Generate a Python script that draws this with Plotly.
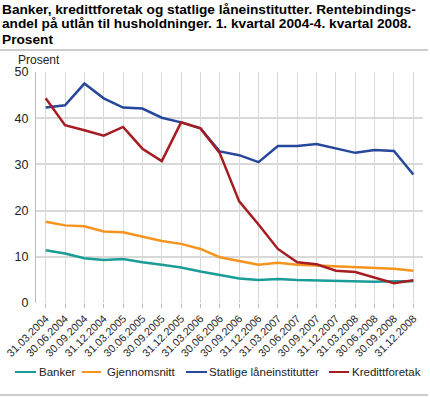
import plotly.graph_objects as go

categories = ["31.03.2004", "30.06.2004", "30.09.2004", "31.12.2004", "31.03.2005", "30.06.2005",
              "30.09.2005", "31.12.2005", "31.03.2006", "30.06.2006", "30.09.2006", "31.12.2006",
              "31.03.2007", "30.06.2007", "30.09.2007", "31.12.2007", "31.03.2008", "30.06.2008",
              "30.09.2008", "31.12.2008"]

banker = [11.4, 10.7, 9.7, 9.3, 9.5, 8.8, 8.3, 7.7, 6.8, 6.0, 5.3, 5.0, 5.2, 5.0, 4.9, 4.9, 4.7, 4.6, 4.7, 4.7]
gjennomsnitt = [17.6, 16.8, 16.6, 15.5, 15.3, 14.3, 13.4, 12.8, 11.7, 9.9, 9.1, 8.3, 8.7, 8.3, 8.1, 7.9, 7.7, 7.5, 7.4, 7.0]
statlige = [42.3, 42.8, 47.5, 44.3, 42.3, 42.1, 40.1, 39.1, 37.8, 32.8, 32.0, 30.5, 34.0, 34.0, 34.4, 33.4, 32.5, 33.1, 32.9, 27.8]
kreditt = [44.3, 38.5, 37.4, 36.2, 38.1, 33.4, 30.7, 39.1, 37.8, 32.4, 22.0, 17.0, 11.7, 8.8, 8.4, 7.0, 6.7, 5.5, 4.3, 4.9]

series_names = ["Banker", "Gjennomsnitt", "Statlige låneinstitutter", "Kredittforetak"]
series_colors = ["#1a9c98", "#f7941d", "#26479a", "#a51d23"]
y_ticks = [0, 10, 20, 30, 40, 50]

title_lines = ["Banker, kredittforetak og statlige låneinstitutter. Rentebindings-",
               "andel på utlån til husholdninger. 1. kvartal 2004-4. kvartal 2008.",
               "Prosent"]

W, H = 430, 397
ml, mr, mt, mb = 36, 7, 72, 94
PW, PH = W - ml - mr, H - mt - mb


def px(xp):
    return (xp - ml) / PW


def py(yp):
    return 1 - (yp - mt) / PH


FONT = "Liberation Sans"

fig = go.Figure()
for name, vals, col in zip(series_names, [banker, gjennomsnitt, statlige, kreditt], series_colors):
    fig.add_trace(go.Scatter(x=categories, y=vals, name=name, mode="lines",
                             line=dict(color=col, width=2.5), showlegend=False))

fig.update_layout(
    width=W, height=H,
    margin=dict(l=ml, r=mr, t=mt, b=mb, autoexpand=False),
    paper_bgcolor="white", plot_bgcolor="white",
    font=dict(family=FONT, size=11, color="#222"),
    showlegend=False,
    xaxis=dict(type="category", categoryorder="array", categoryarray=categories,
               range=[-0.5, len(categories) - 0.5], automargin=False,
               showgrid=True, gridcolor="#d9d9d9", gridwidth=1,
               showline=False, zeroline=False,
               ticks="outside", ticklen=4, tickcolor="#bbbbbb",
               tickangle=-45, tickfont=dict(size=10.8, family=FONT)),
    yaxis=dict(range=[0, 50], tickvals=y_ticks, showgrid=True, gridcolor="#d9d9d9", gridwidth=1.5,
               showline=True, linecolor="#bbbbbb", linewidth=1, zeroline=False, automargin=False,
               ticks="", tickfont=dict(size=12.5, family=FONT), ticklabelstandoff=4),
)

# title lines
for i, t in enumerate(title_lines):
    fig.add_annotation(text="<b>" + t + "</b>", xref="paper", yref="paper",
                       x=px(1), xanchor="left", y=py(9 + 15 * i), yanchor="middle",
                       showarrow=False, align="left", xshift=-1,
                       font=dict(size=13.7, family=FONT, color="#000"))

fig.add_annotation(text="Prosent", xref="paper", yref="paper",
                   x=px(16), xanchor="left", y=py(60), yanchor="middle",
                   showarrow=False, font=dict(size=12, family=FONT, color="#222"))

# separator lines
for yline in (50, 395):
    fig.add_shape(type="line", xref="paper", yref="paper",
                  x0=px(0), x1=px(W - 2), y0=py(yline), y1=py(yline),
                  line=dict(color="#bbbbbb", width=1.5))

# manual legend
leg_y = 372
leg_items = [(15, 36, 38), (82, 101, 106), (186, 207, 208), (329, 349, 351)]
for (x0, x1, xt), name, col in zip(leg_items, series_names, series_colors):
    fig.add_shape(type="line", xref="paper", yref="paper",
                  x0=px(x0), x1=px(x1), y0=py(leg_y), y1=py(leg_y),
                  line=dict(color=col, width=2))
    fig.add_annotation(text=name, xref="paper", yref="paper",
                       x=px(xt), xanchor="left", y=py(leg_y), yanchor="middle",
                       showarrow=False, borderpad=0, font=dict(size=11.5, family=FONT, color="#222"))

fig.write_html("out.html", config={"displayModeBar": False},
               post_script="document.body.style.margin='0px';")
